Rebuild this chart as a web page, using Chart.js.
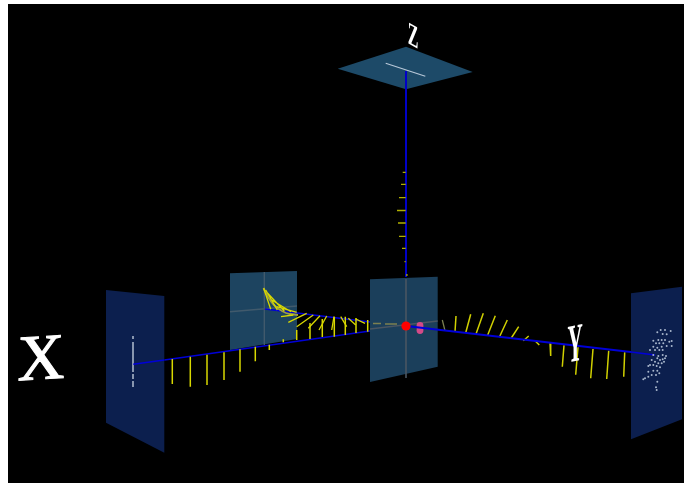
<!DOCTYPE html>
<html><head><meta charset="utf-8">
<style>html,body{margin:0;padding:0;background:#fff}canvas{display:block;filter:blur(.35px)}</style>
<script src="https://cdn.jsdelivr.net/npm/chart.js@4/dist/chart.umd.min.js"></script>
</head><body><canvas id="c" width="684" height="483"></canvas>
<script>
const backdrop=[[8,4],[684,4],[684,483],[8,483],[8,4]];
const panelXSide=[[106,290],[164.3,296],[164.3,452.7],[106,422.7],[106,290]];
const panelRear=[[230,273.3],[297,271],[297,339],[230,350],[230,273.3]];
const panelFront=[[370,279.3],[437.7,276.7],[437.7,366.7],[370,382],[370,279.3]];
const panelYSide=[[631,293.3],[682,286.7],[682,419.3],[631,439.3],[631,293.3]];
const panelTop=[[337.7,68.7],[406,46.7],[472.7,72],[406,89.3],[337.7,68.7]];
const panelGrid=[[264.3,272,264.3,345],[230,311.7,297,306],[406,279,406,378],[370,329,437.7,321]];
const axisXRear=[[164.3,360],[370,331]];
const axisXSide=[[133.3,364.3],[164.3,360]];
const axisYRear=[[265,309],[370,322]];
const axisYFront=[[406,326],[631,352]];
const axisYSide=[[631,352],[655,355]];
const axisZ=[[406,71],[406,277]];
const stemsXLower=[[172.3,359,172.3,384],[190.3,356.7,190.3,386.7],[207,354.7,207,385],[224,352.3,224,380],[240,349.3,240,371.7],[255.3,346.7,255.3,361.3],[269.3,344.7,269.3,350],[283.3,339.3,283.3,342.3],[296.7,330,296.7,340],[310,323,310,339],[322.3,319,322.3,337],[334.3,316.7,334.3,336.7],[345.3,316.7,345.3,335],[356,318,356,333],[367.7,320,367.7,331.7]];
const stemsDim=[[153.3,361.7,153.3,378.3],[442.3,320,445,330.7],[641.3,354.7,642.3,369.3],[373,323.5,381,323.5],[385,324,397,324]];
const stemsYRear=[[263.7,288.3,270.7,309.3],[265.7,290,277.3,310],[267.7,293.3,284.3,311],[271.7,300,291,311.7],[276.7,306.7,296.7,312.3],[281,316.7,293.3,315],[288.3,322.3,306.7,313.3],[296.7,326.7,313.3,315],[308.3,328.3,320,315.7],[319,330,326.7,316],[331.7,330,334,316.7],[346.7,326.7,340.7,316.7],[355.7,325,348.3,318.3],[365,323.3,355.7,319]];
const stemsYFront=[[456,316,455,331.7],[470.7,314.3,465.7,332.7],[483.3,313.3,476,334],[495.3,315.7,487.7,335],[507.3,320,499.3,337.3],[518.7,326.7,511.3,338],[528.7,336,523.3,340.7],[535,340.7,539.3,345],[550,343.3,550.7,356],[564,345.3,562.3,366.7],[578,347.3,575.7,374.7],[593,349,590.7,378.3],[608.7,350.7,606.7,379],[624.7,352.3,623.7,376.7]];
const stemsZ=[[402.7,172.3,405.7,172.3],[401,184.3,405.7,184.3],[399,197.7,405.7,197.7],[397,210.5,405.7,210.5],[398,223,405.7,223],[399,236.3,405.7,236.3],[402,248.3,405.7,248.3],[404.5,261.7,405.7,261.7],[406,275,407.7,275]];
const curveRear=[[263.5,288],[266,293],[268,297],[271,301.5],[274,305],[278,308.5],[282,311],[286,313],[290,314],[298,315]];
const projXSide=[[133,336,133,339],[133,342,133,372],[133,374,133,379],[133,381,133,387]];
const projTop=[[385.7,63.3],[425.3,76.3]];
const scatterYSide=[[660.7,330],[665,330],[670.7,331],[657.3,332.3],[662.7,334],[666.7,334.3],[653.3,340.7],[658.3,340],[661.7,340],[665,340],[671.7,341],[656,343.3],[659.3,343.3],[663.3,343.3],[669.3,341.7],[653.3,346.7],[657.3,347.7],[661.7,346.7],[666.7,346],[671.7,346],[650,350],[655,350],[659.3,350],[662.7,350],[653.3,355],[658.3,356],[662.7,355],[666,356],[657.3,358.3],[660,360],[662.7,359.3],[665,358.3],[651.7,360],[655,361.7],[650,365],[653.3,365],[658.3,363.3],[661.7,363.3],[664,361.7],[648.3,366],[656.7,366],[660,367.3],[648.3,371.7],[653.3,370.7],[657.3,370.7],[659.3,373.3],[645,378.3],[648.3,376.7],[651.7,375],[656,375],[643.3,379.3],[657.3,381.7],[656,387.3],[656.7,390]];
const originCore=[[406,326]];
const originGhost=[[420,325.5],[420,328],[420,330.5]];
const axisLabels=["X","Y","Z"];

const poly=(pts,color)=>({data:pts.map(p=>({x:p[0],y:p[1]})),borderWidth:0,borderColor:color,backgroundColor:color,fill:'shape',showLine:true,pointRadius:0});
const path=(pts,color,w)=>({data:pts.map(p=>({x:p[0],y:p[1]})),borderColor:color,borderWidth:w,showLine:true,pointRadius:0,fill:false});
const segs=(list,color,w)=>({data:list.flatMap(s=>[{x:s[0],y:s[1]},{x:s[2],y:s[3]},{x:s[2],y:null}]),borderColor:color,borderWidth:w,showLine:true,spanGaps:false,pointRadius:0,fill:false});
const dots=(pts,color,r)=>({data:pts.map(p=>({x:p[0],y:p[1]})),showLine:false,backgroundColor:color,borderWidth:0,pointRadius:r,pointHoverRadius:r});

// listed back to front
const layers=[
 poly(backdrop,'#000000'),
 poly(panelTop,'#1d4a68'),
 path(axisZ,'#0000c8',2),
 path(projTop,'#b8c8d8',1.2),
 segs(stemsZ,'#b0b000',1.3),
 poly(panelRear,'#1d4460'),
 segs(panelGrid.slice(0,2),'#415a6c',1.4),
 path(axisYRear,'#0000d8',1.6),
 path(axisXRear,'#0000d8',1.6),
 path(curveRear,'#a0a040',1.8),
 segs(stemsXLower,'#d8d800',1.5),
 segs(stemsYRear,'#d8d800',1.3),
 segs(stemsYFront,'#d0d000',1.5),
 poly(panelFront,'#1c4260f2'),
 segs(panelGrid.slice(2),'#4a5662',1.6),
 segs(stemsDim,'#7c8050',1.3),
 dots(originGhost,'#d44a88',3.4),
 path(axisYFront,'#0000d8',1.8),
 poly(panelXSide,'#0c1f4e'),
 poly(panelYSide,'#0c1f4e'),
 segs(projXSide,'#a8b4c8',1.6),
 path(axisXSide,'#0000d8',1.6),
 path(axisYSide,'#0000d8',1.6),
 dots(scatterYSide,'#a8b6cc',1),
 dots(originCore,'#ff0000',4.6)
];

const labelPlugin={id:'axisLetters',afterDatasetsDraw(chart){
 const {ctx,scales:{x,y}}=chart;
 const looks=[
  {x:41,y:379,size:65,sx:1,skewX:0,skewY:-0.06,font:'normal',stroke:1},
  {x:575,y:361,size:54,sx:0.39,skewX:0,skewY:-0.08,font:'bold',stroke:0},
  {x:413,y:46,size:32,sx:0.5,skewX:0,skewY:0.28,font:'bold',stroke:0}
 ];
 ctx.save();
 ctx.fillStyle='#ffffff';ctx.strokeStyle='#ffffff';ctx.textAlign='center';ctx.textBaseline='alphabetic';
 axisLabels.forEach((t,i)=>{const l=looks[i];
  ctx.save();
  ctx.transform(l.sx,l.skewY,l.skewX,1,x.getPixelForValue(l.x),y.getPixelForValue(l.y));
  ctx.font=l.font+' '+l.size+'px "Liberation Serif"';
  ctx.fillText(t,0,0);
  if(l.stroke){ctx.lineWidth=l.stroke;ctx.strokeText(t,0,0);}
  ctx.restore();
 });
 ctx.restore();
}};

new Chart(document.getElementById('c'),{
 type:'scatter',
 data:{datasets:layers.slice().reverse()},
 plugins:[labelPlugin],
 options:{responsive:false,animation:false,
  layout:{padding:0,autoPadding:false},
  events:[],
  scales:{
   x:{type:'linear',min:0,max:684,display:false},
   y:{type:'linear',min:0,max:483,reverse:true,display:false}
  },
  elements:{line:{tension:0}},
  plugins:{legend:{display:false},tooltip:{enabled:false},title:{display:false},filler:{drawTime:'beforeDatasetDraw',propagate:false}}
 }
});
</script></body></html>
